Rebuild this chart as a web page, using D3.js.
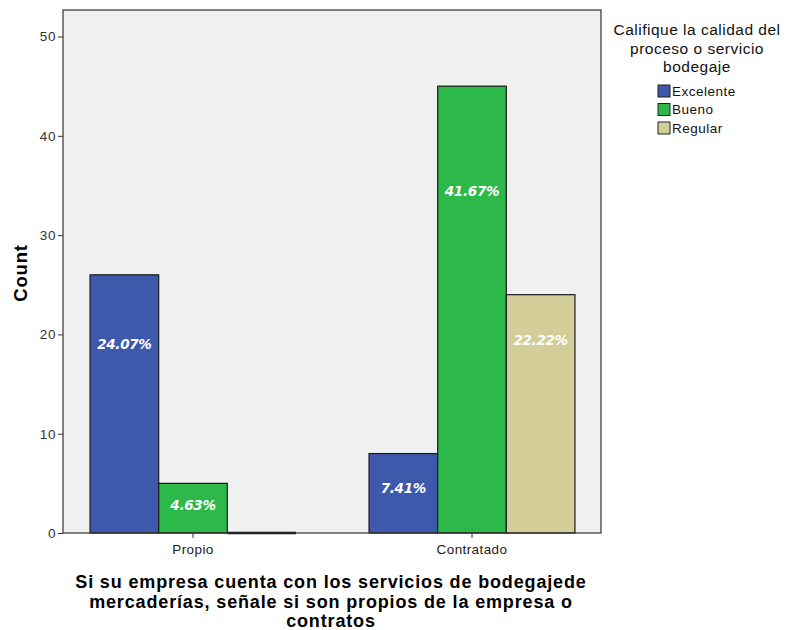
<!DOCTYPE html>
<html><head><meta charset="utf-8">
<script src="https://cdn.jsdelivr.net/npm/d3@7"></script>
<style>body{margin:0;background:#fff}svg{display:block}</style>
</head><body><div id="c"></div>
<script>
const categories = ["Propio", "Contratado"];
const seriesNames = ["Excelente", "Bueno", "Regular"];
const excelente = [26, 8];
const bueno = [5, 45];
const regular = [0, 24];
const percentLabels = [["24.07%", "4.63%", ""], ["7.41%", "41.67%", "22.22%"]];
const yTicks = [0, 10, 20, 30, 40, 50];
const colors = ["#3e58ab", "#2db84a", "#d3cd98"];
const legendTitle = ["Califique la calidad del", "proceso o servicio", "bodegaje"];
const xTitle = ["Si su empresa cuenta con los servicios de bodegajede", "mercaderías, señale si son propios de la empresa o", "contratos"];

const W = 785, H = 630;
const plot = {l: 63, t: 10, r: 601, b: 533};
const svg = d3.select("#c").append("svg").attr("width", W).attr("height", H);
const font = "'Liberation Sans', Arial, sans-serif";

const y = d3.scaleLinear().domain([0, 50]).range([533, 36.5]);
const x0 = d3.scaleBand().domain(categories).range([53.5, 611.5]).paddingInner(0.262).paddingOuter(0.131);
const x1 = d3.scaleBand().domain(seriesNames).range([0, x0.bandwidth()]);

svg.append("rect").attr("x", plot.l).attr("y", plot.t).attr("width", plot.r - plot.l).attr("height", plot.b - plot.t)
  .attr("fill", "#f0f0f0");

const series = [excelente, bueno, regular];
const data = [];
categories.forEach((c, ci) => seriesNames.forEach((s, si) => data.push({c, ci, s, si, v: series[si][ci], lab: percentLabels[ci][si]})));

// label anchor as fraction of bar value (as positioned in the reference)
const labelFrac = {"Propio|Excelente": 0.73, "Propio|Bueno": 0.56, "Contratado|Excelente": 0.565, "Contratado|Bueno": 0.765, "Contratado|Regular": 0.81};

const g = svg.append("g");
g.selectAll("rect.bar").data(data.filter(d => d.v > 0)).join("rect").attr("class", "bar")
  .attr("x", d => x0(d.c) + x1(d.s))
  .attr("y", d => y(d.v))
  .attr("width", x1.bandwidth())
  .attr("height", d => y(0) - y(d.v))
  .attr("fill", d => colors[d.si])
  .attr("stroke", "#1a1a1a").attr("stroke-width", 1.2);
// zero-height bars drawn as a baseline stroke
g.selectAll("line.zero").data(data.filter(d => d.v === 0)).join("line").attr("class", "zero")
  .attr("x1", d => x0(d.c) + x1(d.s)).attr("x2", d => x0(d.c) + x1(d.s) + x1.bandwidth())
  .attr("y1", d => y(d.v)).attr("y2", d => y(d.v))
  .attr("stroke", "#111").attr("stroke-width", 2.5);

g.selectAll("text.lab").data(data.filter(d => d.lab)).join("text").attr("class", "lab")
  .attr("x", d => x0(d.c) + x1(d.s) + x1.bandwidth() / 2)
  .attr("y", d => y(d.v * labelFrac[d.c + "|" + d.s]))
  .attr("dy", "0.36em")
  .attr("text-anchor", "middle")
  .attr("fill", "#fff").attr("font-family", "'DejaVu Sans', Verdana, sans-serif")
  .attr("font-weight", "bold").attr("font-style", "italic").attr("font-size", 13.5)
  .attr("letter-spacing", -0.3)
  .text(d => d.lab);

// frame
svg.append("rect").attr("x", plot.l).attr("y", plot.t).attr("width", plot.r - plot.l).attr("height", plot.b - plot.t)
  .attr("fill", "none").attr("stroke", "#333").attr("stroke-width", 1.2);

// y axis
const yAxis = svg.append("g").attr("transform", `translate(${plot.l},0)`)
  .call(d3.axisLeft(y).tickValues(yTicks).tickSize(5).tickPadding(2));
yAxis.select(".domain").remove();
yAxis.selectAll("line").attr("stroke", "#333");
yAxis.selectAll("text").attr("font-family", font).attr("font-size", 13.5).attr("letter-spacing", 0.6).attr("fill", "#333");

// x axis
const xAxis = svg.append("g").attr("transform", `translate(0,${plot.b})`)
  .call(d3.axisBottom(x0).tickSize(5).tickPadding(6));
xAxis.select(".domain").remove();
xAxis.selectAll("line").attr("stroke", "#333");
xAxis.selectAll("text").attr("font-family", font).attr("font-size", 13.5).attr("letter-spacing", 0.4).attr("fill", "#222");

// axis titles
svg.append("text").attr("transform", "translate(27,273) rotate(-90)").attr("text-anchor", "middle")
  .attr("font-family", font).attr("font-weight", "bold").attr("font-size", 18.5).attr("letter-spacing", 0.8)
  .attr("fill", "#000").text("Count");
svg.append("text").attr("text-anchor", "middle").attr("font-family", font).attr("font-weight", "bold")
  .attr("font-size", 18).attr("letter-spacing", 0.85).attr("fill", "#000")
  .selectAll("tspan").data(xTitle).join("tspan").attr("x", 331).attr("y", (d, i) => 588 + i * 19.5).text(d => d);

// legend
svg.append("text").attr("text-anchor", "middle").attr("font-family", font).attr("font-size", 15.5)
  .attr("letter-spacing", 0.5).attr("fill", "#111")
  .selectAll("tspan").data(legendTitle).join("tspan").attr("x", 697).attr("y", (d, i) => 35 + i * 18.5).text(d => d);
const lg = svg.append("g").selectAll("g").data(seriesNames).join("g")
  .attr("transform", (d, i) => `translate(658,${85 + i * 18.5})`);
lg.append("rect").attr("width", 12).attr("height", 12).attr("fill", (d, i) => colors[i]).attr("stroke", "#222").attr("stroke-width", 1);
lg.append("text").attr("x", 14).attr("y", 6).attr("dy", "0.36em").attr("font-family", font).attr("font-size", 13.5)
  .attr("letter-spacing", 0.5).attr("fill", "#111").text(d => d);
</script></body></html>
